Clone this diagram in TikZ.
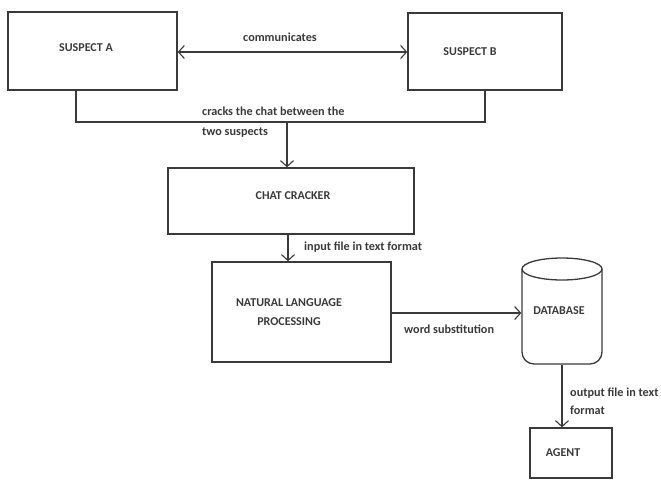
\documentclass[tikz,border=0pt]{standalone}
\usepackage{fontspec}
\setmainfont{Carlito}
\usetikzlibrary{arrows.meta,calc}
\definecolor{ink}{HTML}{3A3A3A}
\tikzset{
  box/.style={draw=ink, line width=1.3pt, rectangle, inner sep=0pt, text=ink, font=\bfseries\fontsize{12}{19}\selectfont, align=center},
  lbl/.style={inner sep=0pt, text=ink, font=\bfseries\fontsize{12.2}{19}\selectfont, align=left},
  conn/.style={draw=ink, line width=1.3pt},
  arr/.style={conn, -{Straight Barb[length=6pt,width=13pt,line width=1.1pt]}},
  darr/.style={conn, {Straight Barb[length=6pt,width=13pt,line width=1.1pt]}-{Straight Barb[length=6pt,width=13pt,line width=1.1pt]}}
}
\begin{document}
\begin{tikzpicture}[x=1pt,y=-1pt]
\useasboundingbox (0,0) rectangle (661,480);
% boxes
\node[box, minimum width=169pt, minimum height=78pt] (sa) at (92.5,51) {\hspace*{-13pt}\raisebox{6pt}{SUSPECT A}};
\node[box, minimum width=154pt, minimum height=77pt] (sb) at (485,51.5) {\hspace*{-30pt}\raisebox{-3pt}{SUSPECT B}};
\node[box, minimum width=246pt, minimum height=66pt] (cc) at (291,201) {\hspace*{4pt}\raisebox{10pt}{CHAT CRACKER}};
\node[box, minimum width=179pt, minimum height=100pt] (nlp) at (301.5,312) {\hspace*{-25pt}NATURAL LANGUAGE\\\hspace*{-25pt}PROCESSING};
\node[box, draw=none, minimum width=80pt, minimum height=106pt] (db) at (562,311) {\hspace*{-6pt}DATABASE};
\draw[conn, rounded corners=12pt] (522,269) -- (522,364) -- (602,364) -- (602,269);
\draw[conn] (562,269) ellipse [x radius=40pt, y radius=11pt];
\node[box, minimum width=82pt, minimum height=50pt] (ag) at (571,453) {\hspace*{-16pt}\raisebox{-4pt}{AGENT}};
% connectors
\draw[darr] (sa.east |- 0,52) -- (sb.west |- 0,52);
\node[lbl, anchor=center] (lcom) at (280,37) {communicates};
\coordinate (j) at (287,122);
\draw[conn] ([xshift=-16.5pt]sa.south) |- (j) -| (sb.south);
\draw[arr] (j) -- (j |- cc.north);
\node[lbl, anchor=west, font=\bfseries\fontsize{12.2}{20}\selectfont] (lcr) at (202,122) {cracks the chat between the\\two suspects};
\draw[arr] ([xshift=-3pt]cc.south) -- ([xshift=-3pt]cc.south |- nlp.north);
\node[lbl, anchor=west] (lin) at (304,247) {input file in text format};
\draw[arr] ([yshift=-1pt]nlp.east) -- ([yshift=-1pt]nlp.east -| db.west);
\node[lbl, anchor=west] (lws) at (404,329) {word substitution};
\draw[arr] (db.south) -- (db.south |- ag.north);
\node[lbl, anchor=west, font=\bfseries\fontsize{12.2}{18}\selectfont] (lout) at (570,401) {output file in text\\format};
\end{tikzpicture}
\end{document}
